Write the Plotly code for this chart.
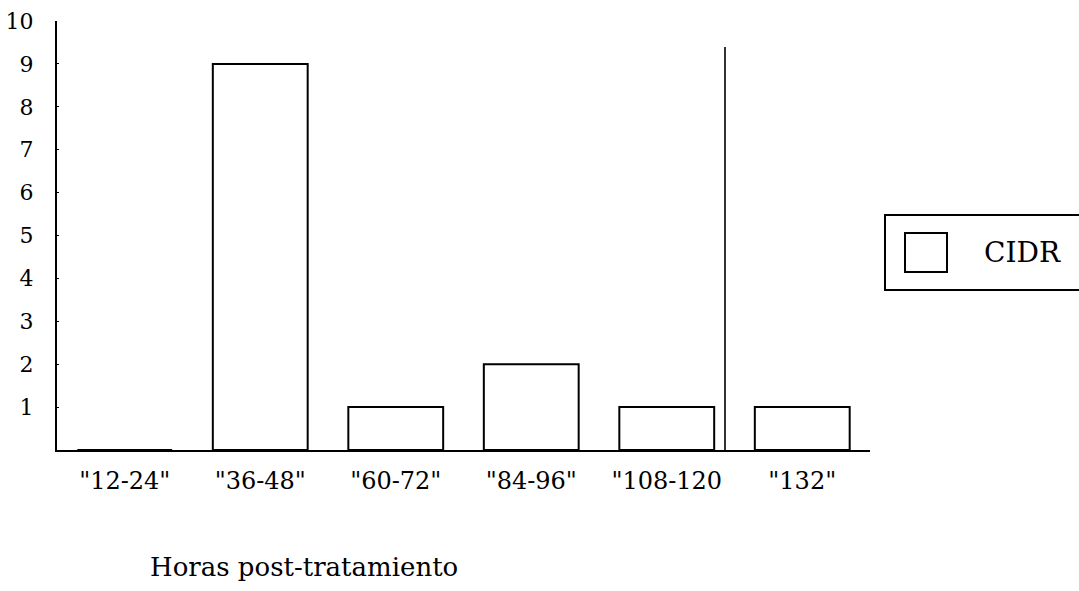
import plotly.graph_objects as go

categories = ['"12-24"', '"36-48"', '"60-72"', '"84-96"', '"108-120', '"132"']
values = [0, 9, 1, 2, 1, 1]
series_name = "CIDR"
y_ticks = list(range(1, 11))
x_title = "Horas post-tratamiento"

W, H = 1079, 591
L, R, T, B = 57, 870, 21, 450
FONT = "DejaVu Serif"


def px(x):
    return (x - L) / (R - L)


def py(y):
    return (B - y) / (B - T)


fig = go.Figure()
fig.add_trace(go.Bar(
    x=categories, y=values, name=series_name,
    marker=dict(color="white", line=dict(color="black", width=2)),
    showlegend=False,
))

shapes = [
    # scan artifact vertical line
    dict(type="line", xref="paper", yref="paper", x0=px(725), x1=px(725), y0=0, y1=py(47),
         line=dict(color="#333", width=2)),
    # legend box
    dict(type="rect", xref="paper", yref="paper", x0=px(885), x1=px(1090), y0=py(290), y1=py(215),
         line=dict(color="black", width=2), fillcolor="rgba(0,0,0,0)"),
    # legend swatch
    dict(type="rect", xref="paper", yref="paper", x0=px(905), x1=px(947), y0=py(272), y1=py(233),
         line=dict(color="black", width=2), fillcolor="white"),
]

annotations = [
    dict(text=series_name, xref="paper", yref="paper", x=px(1023), y=py(252),
         showarrow=False, font=dict(family=FONT, size=28, color="black"),
         xanchor="center", yanchor="middle"),
    dict(text=x_title, xref="paper", yref="paper", x=px(304), y=py(567),
         showarrow=False, font=dict(family=FONT, size=26, color="black"),
         xanchor="center", yanchor="middle"),
]

fig.update_layout(
    width=W, height=H,
    margin=dict(l=L, r=W - R, t=T, b=H - B, pad=0, autoexpand=False),
    paper_bgcolor="white", plot_bgcolor="white",
    bargap=0.3,
    shapes=shapes, annotations=annotations,
    font=dict(family=FONT, color="black"),
)
fig.update_xaxes(
    automargin=False,
    showline=True, linecolor="black", linewidth=2, showgrid=False, zeroline=False,
    ticks="", tickfont=dict(family=FONT, size=24, color="black"), ticklabelstandoff=8,
)
fig.update_yaxes(
    automargin=False,
    range=[0, 10], showline=True, linecolor="black", linewidth=2, showgrid=False, zeroline=False,
    tickvals=y_ticks, ticks="inside", ticklen=2, tickcolor="black",
    tickfont=dict(family=FONT, size=22, color="black"), ticklabelstandoff=17,
)

fig.write_html("out.html")
